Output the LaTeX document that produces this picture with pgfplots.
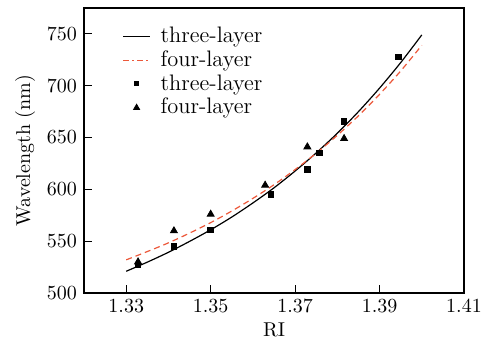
\documentclass[border=0pt]{standalone}
\usepackage{pgfplots}
\pgfplotsset{compat=1.18}
\definecolor{redd}{RGB}{236,88,58}
\begin{document}
\begin{tikzpicture}
\begin{axis}[
  scale only axis,
  width=190pt, height=142.5pt,
  xmin=1.32, xmax=1.41, ymin=500, ymax=775,
  xtick={1.33,1.35,1.37,1.39,1.41},
  ytick={500,550,600,650,700,750},
  xticklabel style={/pgf/number format/fixed,/pgf/number format/precision=2,/pgf/number format/fixed zerofill},
  scaled x ticks=false,
  tick align=inside, xtick pos=bottom, ytick pos=left,
  major tick length=4pt,
  axis line style={line width=0.7pt},
  every tick/.style={line width=0.5pt, black},
  xlabel={RI}, ylabel={Wavelength (nm)},
  xlabel style={yshift=2pt}, ylabel style={yshift=-1pt},
  legend style={at={(0.095,0.955)}, anchor=north west, draw=none, fill=none, font=\fontsize{11.2}{13}\selectfont,
    row sep=-1.5pt, inner sep=1pt, /tikz/every odd column/.append style={column sep=3pt}},
  legend cell align=left,
]
\addplot[black, line width=0.6pt, smooth, no marks, legend image code/.code={\draw[black,line width=0.6pt] (0,0) -- (13.5pt,0);}] coordinates {
(1.330,521.0) (1.335,529.8) (1.340,539.3) (1.345,549.8) (1.350,561.0) (1.355,573.3) (1.360,586.9) (1.365,601.5) (1.370,617.7) (1.375,635.2) (1.380,654.2) (1.385,675.0) (1.390,697.7) (1.395,722.3) (1.400,749.0)};
\addlegendentry{three-layer}
\addplot[redd, line width=0.6pt, dash pattern=on 3pt off 2pt, smooth, no marks, legend image code/.code={\draw[redd,line width=0.6pt,dash pattern=on 3pt off 1.5pt on 1pt off 1.5pt] (0,0) -- (13.5pt,0);}] coordinates {
(1.330,532.0) (1.335,540.0) (1.340,548.4) (1.345,557.8) (1.350,567.9) (1.355,579.1) (1.360,591.3) (1.365,604.5) (1.370,619.1) (1.375,634.9) (1.380,652.2) (1.385,671.0) (1.390,691.7) (1.395,714.2) (1.400,739.0)};
\addlegendentry{four-layer}
\addplot[only marks, mark=square*, mark size=1.4pt, black, legend image code/.code={\fill[black] (6.75pt-1.0pt,-1.0pt) rectangle (6.75pt+1.0pt,1.0pt);}] coordinates {
(1.3328,527) (1.3413,545) (1.3500,561) (1.3643,595) (1.3729,619) (1.3758,635) (1.3816,665.5) (1.3945,728)};
\addlegendentry{three-layer}
\addplot[only marks, mark=triangle*, mark size=2.0pt, black, legend image code/.code={\fill[black] (6.75pt,1.6pt) -- (6.75pt-1.5pt,-1.0pt) -- (6.75pt+1.5pt,-1.0pt) -- cycle;}] coordinates {
(1.3328,530) (1.3413,560) (1.3500,576) (1.3629,604) (1.3729,641) (1.3816,649)};
\addlegendentry{four-layer}
\end{axis}
\pgfresetboundingbox
\useasboundingbox ([shift={(-42pt,-25.5pt)}]current axis.south west) rectangle ([shift={(12.5pt,4pt)}]current axis.north east);
\end{tikzpicture}
\end{document}
